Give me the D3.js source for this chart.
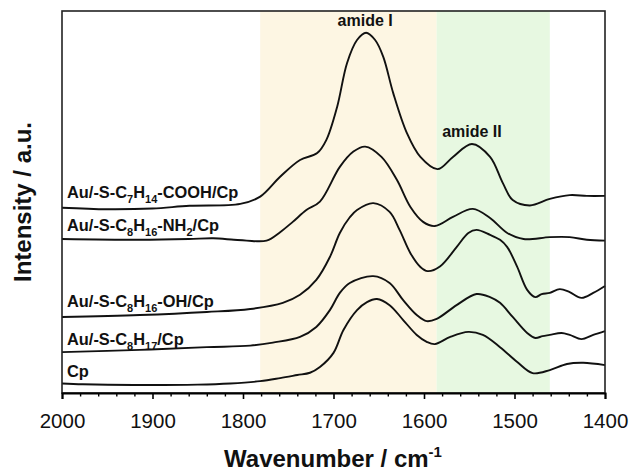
<!DOCTYPE html>
<html>
<head>
<meta charset="utf-8">
<script src="https://cdn.jsdelivr.net/npm/d3@7"></script>
<style>
  body { margin: 0; background: #fff; }
  text { font-family: Arial, "Liberation Sans", sans-serif; fill: #111; }
</style>
</head>
<body>
<svg width="630" height="471"></svg>
<script>
// spectra, [wavenumber, intensity a.u. incl. offset]
const cooh = [[2000,4.85],[1950,4.81],[1900,4.83],[1859,4.90],[1803,4.95],[1781,5.14],[1759,5.66],[1737,6.10],[1718,6.28],[1708,6.62],[1696,7.49],[1685,8.64],[1674,9.24],[1664,9.43],[1654,9.24],[1645,8.80],[1634,7.85],[1619,6.81],[1604,6.18],[1585,5.86],[1568,6.18],[1547,6.52],[1527,6.18],[1513,5.50],[1502,5.05],[1483,4.91],[1461,5.08],[1439,5.18],[1420,5.16],[1400,5.16]]
const nh2 = [[2000,4.03],[1914,4.01],[1860,4.03],[1833,4.05],[1810,4.01],[1796,3.99],[1774,3.99],[1759,4.21],[1745,4.48],[1730,4.79],[1715,5.01],[1693,5.92],[1678,6.32],[1665,6.45],[1647,6.18],[1630,5.58],[1615,4.87],[1601,4.48],[1588,4.37],[1568,4.61],[1546,4.82],[1527,4.58],[1508,4.19],[1490,4.03],[1461,4.08],[1439,4.08],[1420,4.01],[1400,3.99]]
const oh = [[2000,1.99],[1914,2.04],[1840,2.12],[1792,2.20],[1756,2.36],[1737,2.57],[1719,2.96],[1704,3.56],[1693,4.19],[1682,4.60],[1674,4.79],[1656,4.97],[1638,4.74],[1627,4.27],[1615,3.66],[1604,3.30],[1596,3.19],[1582,3.32],[1564,3.82],[1551,4.19],[1542,4.27],[1527,4.14],[1516,4.01],[1508,3.82],[1497,3.30],[1486,2.70],[1477,2.51],[1470,2.59],[1461,2.62],[1450,2.72],[1439,2.64],[1426,2.49],[1413,2.62],[1400,2.80]]
const c8h17 = [[2000,1.07],[1914,1.13],[1840,1.20],[1792,1.24],[1767,1.32],[1737,1.47],[1719,1.73],[1704,2.17],[1693,2.62],[1682,2.88],[1656,3.06],[1638,2.88],[1623,2.43],[1608,2.04],[1597,1.88],[1586,1.94],[1564,2.30],[1542,2.59],[1527,2.51],[1516,2.36],[1502,1.99],[1486,1.57],[1477,1.44],[1469,1.49],[1461,1.52],[1448,1.57],[1439,1.52],[1426,1.41],[1413,1.52],[1400,1.62]]
const cp = [[2000,0.25],[1977,0.23],[1921,0.21],[1850,0.22],[1814,0.25],[1781,0.31],[1759,0.39],[1740,0.47],[1726,0.53],[1715,0.68],[1700,1.05],[1689,1.65],[1674,2.17],[1663,2.38],[1652,2.46],[1638,2.30],[1623,1.91],[1608,1.52],[1597,1.34],[1588,1.28],[1571,1.47],[1551,1.60],[1535,1.52],[1516,1.20],[1497,0.81],[1480,0.52],[1461,0.60],[1442,0.76],[1424,0.79],[1400,0.73]]

const series = [cooh, nh2, oh, c8h17, cp]
const labels = [
  [["Au/-S-C", 0], ["7", 1], ["H", 0], ["14", 1], ["-COOH/Cp", 0]],
  [["Au/-S-C", 0], ["8", 1], ["H", 0], ["16", 1], ["-NH", 0], ["2", 1], ["/Cp", 0]],
  [["Au/-S-C", 0], ["8", 1], ["H", 0], ["16", 1], ["-OH/Cp", 0]],
  [["Au/-S-C", 0], ["8", 1], ["H", 0], ["17", 1], ["/Cp", 0]],
  [["Cp", 0]]
]
const labelValues = [5.1, 4.25, 2.24, 1.26, 0.42]
const bands = [[1781, 1586, "#fdf6e3"], [1586, 1461, "#e7f8e1"]]
const bandNames = [["amide I", 1665, 9.6], ["amide II", 1547, 6.7]]

const svg = d3.select("svg")
const mLeft = 62, mRight = 605, mTop = 11, mBottom = 393

const x = d3.scaleLinear().domain([2000, 1400]).range([mLeft, mRight])
const y = d3.scaleLinear().domain([0, 10]).range([mBottom, mTop])

svg.append("g").selectAll("rect")
    .data(bands)
    .enter().append("rect")
    .attr("x", d => x(d[0]))
    .attr("width", d => x(d[1]) - x(d[0]))
    .attr("y", mTop)
    .attr("height", mBottom - mTop)
    .attr("fill", d => d[2])

let line = d3.line()
    .x(d => x(d[0]))
    .y(d => y(d[1]))
    .curve(d3.curveCatmullRom.alpha(0.5))

svg.append("g").selectAll("path")
    .data(series)
    .enter().append("path")
    .attr("d", line)
    .attr("fill", "none")
    .attr("stroke", "#111")
    .attr("stroke-width", 1.9)

// frame
svg.append("rect")
    .attr("x", mLeft).attr("y", mTop)
    .attr("width", mRight - mLeft).attr("height", mBottom - mTop)
    .attr("fill", "none")
    .attr("stroke", "#222")
    .attr("stroke-width", 1.6)

let xAxis = svg.append("g")
    .attr("transform", `translate(0,${mBottom})`)
    .call(d3.axisBottom(x).tickValues(d3.range(2000, 1399, -100)).tickSize(6).tickFormat(d3.format("d")))
xAxis.select(".domain").attr("stroke-width", 2)
xAxis.selectAll(".tick line").attr("stroke-width", 1.6)
xAxis.selectAll(".tick text")
    .attr("font-size", 20.5)
    .attr("font-family", "Arial, 'Liberation Sans', sans-serif")
    .attr("fill", "#111")
    .attr("dy", null)
    .attr("y", 35)

svg.append("g")
    .attr("transform", `translate(0,${mBottom})`)
    .call(d3.axisBottom(x).tickValues(d3.range(2000, 1399, -20).filter(d => d % 100 != 0)).tickSize(3.5).tickFormat(""))
    .call(g => g.select(".domain").remove())
    .selectAll(".tick line").attr("stroke-width", 1.4)

// curve labels
let lab = svg.append("g").selectAll("text")
    .data(labels)
    .enter().append("text")
    .attr("x", 67)
    .attr("y", (d, i) => y(labelValues[i]))
    .attr("font-size", 16.4)
    .attr("font-weight", "bold")

lab.selectAll("tspan")
    .data(d => d)
    .enter().append("tspan")
    .attr("font-size", d => d[1] ? 11 : 16.4)
    .attr("dy", (d, i, nodes) => {
        let prev = i > 0 ? nodes[i - 1].__data__[1] : 0
        return d[1] == prev ? 0 : (d[1] ? 5 : -5)
    })
    .text(d => d[0])

svg.append("g").selectAll("text")
    .data(bandNames)
    .enter().append("text")
    .attr("x", d => x(d[1]))
    .attr("y", d => y(d[2]))
    .attr("text-anchor", "middle")
    .attr("font-size", 16)
    .attr("font-weight", "bold")
    .text(d => d[0])

// axis titles
svg.append("text")
    .attr("x", 333).attr("y", 467)
    .attr("text-anchor", "middle")
    .attr("font-size", 24)
    .attr("font-weight", "bold")
    .text("Wavenumber / cm")
    .append("tspan")
    .attr("font-size", 15)
    .attr("dy", -10)
    .text("-1")

svg.append("text")
    .attr("transform", "translate(30.5,202) rotate(-90)")
    .attr("text-anchor", "middle")
    .attr("font-size", 24)
    .attr("font-weight", "bold")
    .text("Intensity / a.u.")
</script>
</body>
</html>
